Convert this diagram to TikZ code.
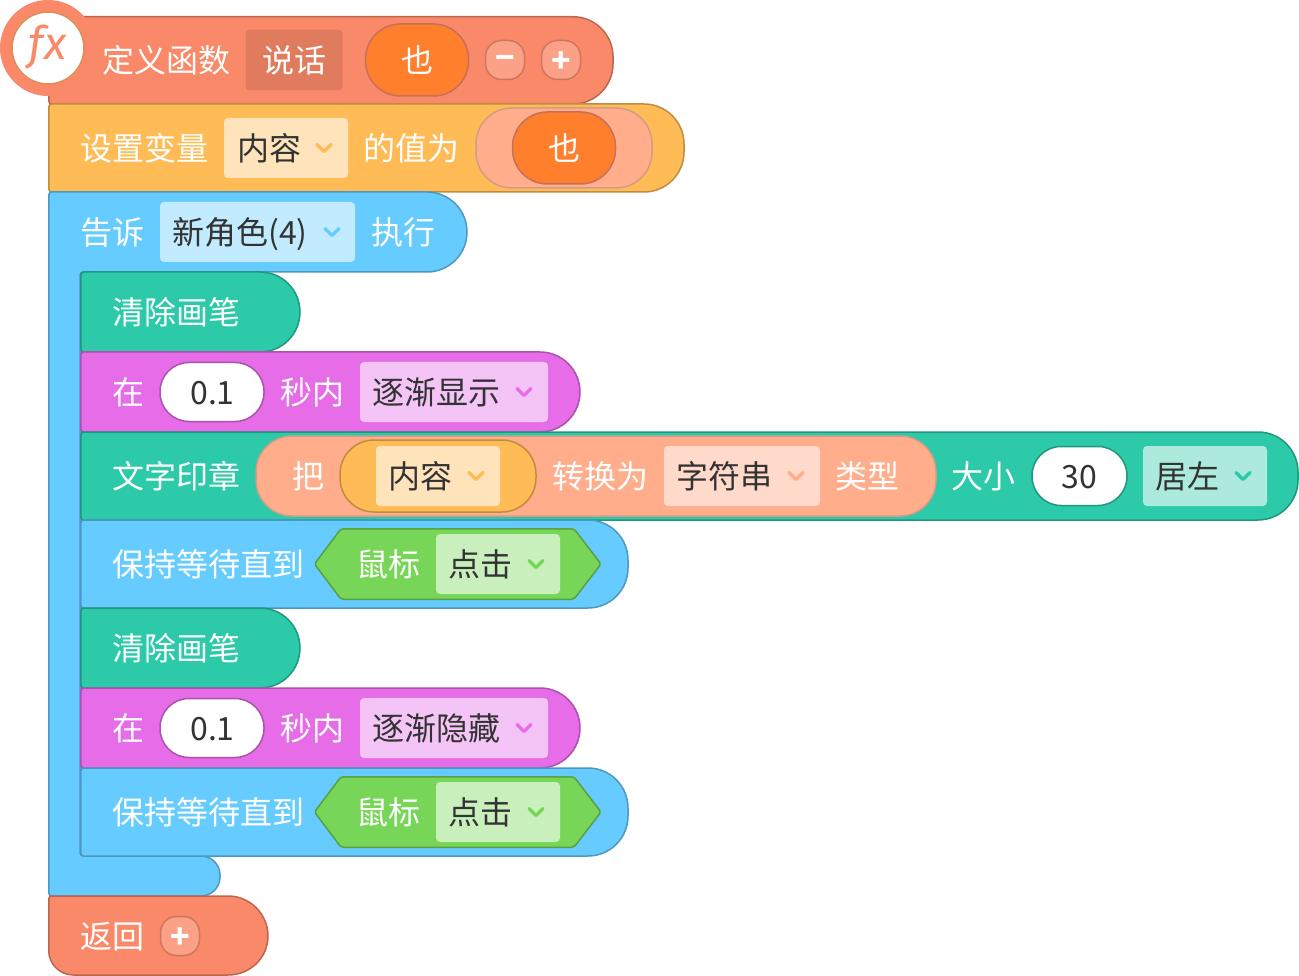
\documentclass[tikz,border=0pt]{standalone}
\usepackage{fontspec}
\usepackage{xcolor}
\usepackage{tikz}
\setmainfont{Noto Sans CJK SC}
\newfontfamily\fxfont{Fira Sans}
\definecolor{blkcoral}{HTML}{FA8969}
\definecolor{blkamber}{HTML}{FFBB55}
\definecolor{blksky}{HTML}{66CCFF}
\definecolor{blkteal}{HTML}{2CCAA8}
\definecolor{blkpink}{HTML}{E66CE8}
\definecolor{blkleaf}{HTML}{77D657}
\definecolor{pillorange}{HTML}{FF7F2C}
\definecolor{pillrim}{HTML}{C4705A}
\definecolor{pillpeach}{HTML}{FFAD8B}
\definecolor{inkdark}{HTML}{333333}
% block body: style, left, top, right, bottom
\newcommand{\stackblock}[5]{
  \draw[#1, rounded corners=3pt] (#2,#5) -- (#2,#3) [rounded corners=40pt] -- (#4,#3) -- (#4,#5) [rounded corners=3pt] -- cycle;
}
% menu arrow: colour, x, y
\newcommand{\chevron}[3]{
  \draw[#1, line width=3.5pt, line cap=round, line join=round] (#2-7,#3-3.5) -- (#2,#3+3.5) -- (#2+7,#3-3.5);
}
\begin{document}
\begin{tikzpicture}[
      x=1pt, y=-1pt,
      lbl/.style={text=white, inner sep=0pt, text height=29pt, text depth=4pt, font=\fontsize{32}{36}\selectfont},
      dark/.style={lbl, text=inkdark},
      blk/.style={line width=1.5pt, fill=#1, draw=#1!75!black},
      dropbox/.style={fill=#1, rounded corners=4pt, minimum height=60pt, inner sep=0pt},
      pill/.style={fill=#1, draw=#1!75!black, line width=1.5pt, inner sep=0pt},
      argpill/.style={fill=pillorange, draw=pillrim, line width=1.5pt, rounded corners=35pt, minimum width=103pt, minimum height=72pt, inner sep=0pt},
      entry/.style={fill=white, draw=blkteal!75!black, line width=1.5pt, rounded corners=29pt, minimum height=59pt, inner sep=0pt},
      btn/.style={fill=blkcoral!80!white, draw=pillrim!80!blkcoral, line width=1.5pt, rounded corners=16pt, minimum width=39pt, minimum height=39pt, inner sep=0pt},
      sign/.style={text=white, inner sep=0pt, font=\bfseries\fontsize{32}{32}\selectfont}]
    \useasboundingbox (0,0) rectangle (1299,976);
    % function header
    \stackblock{blk=blkcoral}{48.75}{16.75}{613}{104}
    \node[dropbox=blkcoral!90!black, minimum width=96pt, draw=blkcoral!85!black] (namebox) at (294,60) {};
    \node[lbl] (defname) at (294,60) {说话};
    \node[lbl] (deflbl) at (166,60) {定义函数};
    \node[argpill] (argslot) at (417,60) {};
    \node[lbl] (argtxt) at (417,60) {也};
    \node[btn] (minusbtn) at (505,60) {};
    \node[sign] (minussign) at (505,62) {−};
    \node[btn] (plusbtn) at (561,60) {};
    \node[sign] (plussign) at (561,62) {+};
    % set variable
    \stackblock{blk=blkamber}{48.75}{104}{684}{192}
    \node[lbl] (setlbl) at (144.5,148) {设置变量};
    \node[dropbox=blkamber!40!white, minimum width=124pt] (varbox) at (286,148) {};
    \node[dark] (vartxt) at (269,148) {内容};
    \chevron{blkamber}{324}{148}
    \node[lbl] (vallbl) at (411.5,148) {的值为};
    \node[pill=pillpeach, draw=pillpeach!65!gray, rounded corners=36pt, minimum width=176pt, minimum height=80pt] (valslot) at (564,148) {};
    \node[argpill] (valpill) at (564,148) {};
    \node[lbl] (valtxt) at (564,148) {也};
    % tell block
    \draw[blk=blksky, rounded corners=3pt] (48.75,896) -- (48.75,192) [rounded corners=40pt] -- (467,192) -- (467,272) [rounded corners=3pt] -- (80,272) -- (80,856) [rounded corners=19pt] -- (220,856) -- (220,896) [rounded corners=3pt] -- cycle;
    \node[lbl] (telllbl) at (112.5,232) {告诉};
    \node[dropbox=blksky!40!white, minimum width=195pt] (spritebox) at (257.5,232) {};
    \node[dark] (spritetxt) at (240,232) {新角色(4)};
    \chevron{blksky}{332}{232}
    \node[lbl] (dolbl) at (403.5,232) {执行};
    % clear
    \stackblock{blk=blkteal}{80.75}{272}{300}{352}
    \node[lbl] (clearone) at (176,312) {清除画笔};
    % fade in
    \stackblock{blk=blkpink}{80.75}{352}{580}{432}
    \node[lbl] (inone) at (128,392) {在};
    \node[entry, draw=blkpink!75!black, minimum width=104pt] (timeone) at (212,392) {};
    \node[dark] (timeonetxt) at (212.5,392) {0.1};
    \node[lbl] (secone) at (312.5,392) {秒内};
    \node[dropbox=blkpink!40!white, minimum width=188pt] (fadeone) at (454,392) {};
    \node[dark] (fadeonetxt) at (436.5,392) {逐渐显示};
    \chevron{blkpink}{524}{392}
    % stamp text
    \stackblock{blk=blkteal}{80.75}{432}{1298}{520}
    \node[lbl] (stamplbl) at (176,476) {文字印章};
    \node[pill=pillpeach, draw=pillpeach!65!gray, rounded corners=36pt, minimum width=680pt, minimum height=80pt] (castpill) at (596,476) {};
    \node[lbl] (castlbl) at (308,476) {把};
    \node[pill=blkamber, rounded corners=34pt, minimum width=196pt, minimum height=72pt] (castvar) at (438,476) {};
    \node[dropbox=blkamber!40!white, minimum width=124pt] (castbox) at (438,476) {};
    \node[dark] (casttxt) at (420,476) {内容};
    \chevron{blkamber}{476}{476}
    \node[lbl] (tolbl) at (600,476) {转换为};
    \node[dropbox=pillpeach!45!white, minimum width=156pt] (typebox) at (742,476) {};
    \node[dark] (typetxt) at (724,476) {字符串};
    \chevron{pillpeach}{796}{476}
    \node[lbl] (typelbl) at (867.5,476) {类型};
    \node[lbl] (sizelbl) at (983.5,476) {大小};
    \node[entry, minimum width=95pt] (sizeval) at (1079.5,476) {};
    \node[dark] (sizetxt) at (1079,476) {30};
    \node[dropbox=blkteal!40!white, minimum width=124pt] (alignbox) at (1205,476) {};
    \node[dark] (aligntxt) at (1187,476) {居左};
    \chevron{blkteal}{1243}{476}
    % wait until click
    \stackblock{blk=blksky}{80.75}{520}{628}{608}
    \node[lbl] (waitone) at (208,564) {保持等待直到};
    \draw[blk=blkleaf, rounded corners=2pt] (314.5,564) -- (341,528.75) -- (574,528.75) -- (601,564) -- (574,599.25) -- (341,599.25) -- cycle;
    \node[lbl] (mouseone) at (388.5,564) {鼠标};
    \node[dropbox=blkleaf!40!white, minimum width=124pt] (clickone) at (498,564) {};
    \node[dark] (clickonetxt) at (480.5,564) {点击};
    \chevron{blkleaf}{536}{564}
    % clear again
    \stackblock{blk=blkteal}{80.75}{608}{300}{688}
    \node[lbl] (cleartwo) at (176,648) {清除画笔};
    % fade out
    \stackblock{blk=blkpink}{80.75}{688}{580}{768}
    \node[lbl] (intwo) at (128,728) {在};
    \node[entry, draw=blkpink!75!black, minimum width=104pt] (timetwo) at (212,728) {};
    \node[dark] (timetwotxt) at (212.5,728) {0.1};
    \node[lbl] (sectwo) at (312.5,728) {秒内};
    \node[dropbox=blkpink!40!white, minimum width=188pt] (fadetwo) at (454,728) {};
    \node[dark] (fadetwotxt) at (436.5,728) {逐渐隐藏};
    \chevron{blkpink}{524}{728}
    % wait again
    \stackblock{blk=blksky}{80.75}{768}{628}{856}
    \node[lbl] (waittwo) at (208,812) {保持等待直到};
    \draw[blk=blkleaf, rounded corners=2pt] (314.5,812) -- (341,776.75) -- (574,776.75) -- (601,812) -- (574,847.25) -- (341,847.25) -- cycle;
    \node[lbl] (mousetwo) at (388.5,812) {鼠标};
    \node[dropbox=blkleaf!40!white, minimum width=124pt] (clicktwo) at (498,812) {};
    \node[dark] (clicktwotxt) at (480.5,812) {点击};
    \chevron{blkleaf}{536}{812}
    % return
    \draw[blk=blkcoral] (51.75,896) -- (228,896) .. controls (250,896) and (268,914) .. (268,936) .. controls (268,958) and (250,975) .. (228,975) -- (73,975) .. controls (60,975) and (48.75,964) .. (48.75,951) -- (48.75,899) .. controls (48.75,897) and (50,896) .. (51.75,896) -- cycle;
    \node[lbl] (retlbl) at (112.5,936) {返回};
    \node[btn] (retbtn) at (180,936) {};
    \node[sign] (retsign) at (180,938) {+};
    % function badge
    \node[circle, fill=blkcoral, minimum size=96pt, inner sep=0pt] (fxring) at (48,48) {};
    \node[circle, fill=white, draw=pillrim!60!blkamber, line width=1.5pt, minimum size=72pt, inner sep=0pt] (fxdisc) at (48,48) {};
    \node[text=blkcoral, inner sep=0pt, font=\fxfont\itshape\fontsize{46}{46}\selectfont] (fxtxt) at (47.5,47) {fx};
  \end{tikzpicture}
\end{document}
